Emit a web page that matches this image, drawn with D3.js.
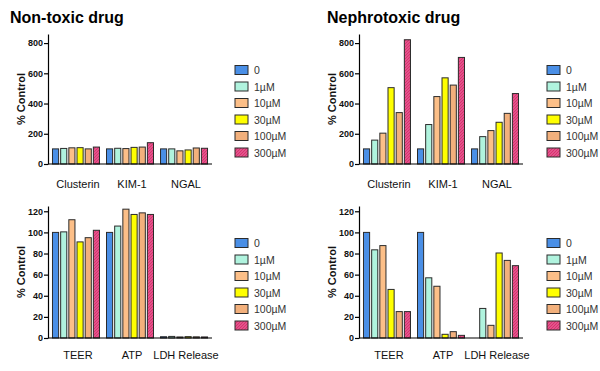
<!DOCTYPE html>
<html>
<head>
<meta charset="utf-8">
<script src="https://cdn.jsdelivr.net/npm/d3@7"></script>
<style>
  body { margin: 0; background: #fff; }
  text { font-family: "Liberation Sans", Arial, sans-serif; }
</style>
</head>
<body>
<svg id="chart" width="600" height="371"></svg>
<script>
var doses = ["0", "1µM", "10µM", "30µM", "100µM", "300µM"];
var doseColors = ["#4a8fe6", "#b0f3de", "#fcbf88", "#ffff00", "#f2b07c", "url(#hatch)"];

var biomarkers = ["Clusterin", "KIM-1", "NGAL"];
var viability = ["TEER", "ATP", "LDH Release"];

// values per category, one per dose
var nonToxicBiomarkers = [
  [100, 103, 107, 108, 100, 112],
  [100, 104, 102, 110, 112, 141],
  [100, 100, 87, 93, 106, 104]
];
var nephroBiomarkers = [
  [100, 158, 204, 505, 340, 822],
  [100, 261, 446, 570, 522, 705],
  [100, 181, 221, 276, 335, 466]
];
var nonToxicViability = [
  [100, 100.5, 112, 91, 95, 102],
  [100, 106, 122, 117, 118.5, 117],
  [1.2, 1.5, 1, 1.3, 1.1, 1]
];
var nephroViability = [
  [100, 83.5, 87.5, 46, 25, 25],
  [100, 57, 49, 3.5, 6, 2.5],
  [0, 28, 12, 80.5, 73.5, 68.5]
];

var biomarkerTicks = [0, 200, 400, 600, 800];
var viabilityTicks = [0, 20, 40, 60, 80, 100, 120];

var svg = d3.select("#chart");

// hatch pattern for the 300uM bars
var pat = svg.append("defs")
  .append("pattern")
    .attr("id", "hatch")
    .attr("patternUnits", "userSpaceOnUse")
    .attr("width", 3)
    .attr("height", 3);
pat.append("rect").attr("width", 3).attr("height", 3).attr("fill", "#d9306f");
pat.append("path")
    .attr("d", "M0,3 L3,0 M-1,1 L1,-1 M2,4 L4,2")
    .attr("stroke", "#f08ab4")
    .attr("stroke-width", 0.8);

function drawPanel(o) {
  var g = svg.append("g").attr("transform", "translate(" + o.dx + "," + o.dy + ")");

  var y = d3.scaleLinear().domain([0, o.ymax]).range([o.bottom, o.top]);
  var x = d3.scaleBand()
              .domain(o.categories)
              .range([48, 212])
              .paddingInner(0.13)
              .paddingOuter(0.083);
  var xs = d3.scaleBand()
              .domain(doses)
              .range([0, x.bandwidth()])
              .paddingInner(0.25);

  var groups = g.selectAll(".grp")
    .data(o.values)
    .enter()
    .append("g")
      .attr("transform", (d, i) => "translate(" + x(o.categories[i]) + ",0)");

  groups.selectAll("rect")
    .data(d => d)
    .enter()
    .append("rect")
      .attr("x", (d, i) => xs(doses[i]))
      .attr("width", xs.bandwidth())
      .attr("y", d => y(d))
      .attr("height", d => y(0) - y(d))
      .attr("fill", (d, i) => doseColors[i])
      .attr("stroke", "#2b2b2b")
      .attr("stroke-width", d => d > 0 ? 1 : 0);

  // y axis
  var ax = g.append("g")
      .attr("transform", "translate(48,0)")
      .call(d3.axisLeft(y).tickValues(o.ticks).tickSize(4).tickSizeOuter(0));
  ax.select(".domain").attr("stroke", "#000").attr("stroke-width", 1.2);
  ax.selectAll(".tick line").attr("stroke", "#000").attr("stroke-width", 1.2);
  ax.selectAll(".tick text")
      .attr("font-size", 9)
      .attr("font-weight", "bold")
      .attr("fill", "#111")
      .attr("x", -5);

  // x baseline
  g.append("line")
      .attr("x1", 48).attr("x2", 212)
      .attr("y1", y(0)).attr("y2", y(0))
      .attr("stroke", "#000")
      .attr("stroke-width", 1.2);

  g.selectAll(".cat")
    .data(o.categories)
    .enter()
    .append("text")
      .attr("x", d => x(d) + x.bandwidth() / 2 + 2)
      .attr("y", o.bottom + o.labelDy)
      .attr("text-anchor", "middle")
      .attr("font-size", 11)
      .attr("fill", "#111")
      .text(d => d);

  g.append("text")
      .attr("transform", "translate(25," + ((o.top + o.bottom) / 2) + ") rotate(-90)")
      .attr("text-anchor", "middle")
      .attr("font-size", 11)
      .attr("font-weight", "bold")
      .attr("fill", "#111")
      .text("% Control");

  if (o.title) {
    g.append("text")
        .attr("x", o.titleX)
        .attr("y", 23)
        .attr("font-size", 16)
        .attr("font-weight", "bold")
        .attr("fill", "#000")
        .text(o.title);
  }

  // legend
  var leg = g.selectAll(".leg")
    .data(doses)
    .enter()
    .append("g")
      .attr("transform", (d, i) => "translate(" + o.legX + "," + (o.legY + i * 16.5) + ")");
  leg.append("rect")
      .attr("x", 0).attr("y", -4.5)
      .attr("width", 13).attr("height", 9)
      .attr("fill", (d, i) => doseColors[i])
      .attr("stroke", "#2b2b2b")
      .attr("stroke-width", 1);
  leg.append("text")
      .attr("x", 19)
      .attr("y", 4)
      .attr("font-size", 10.5)
      .attr("fill", "#333")
      .text(d => d);
}

drawPanel({ dx: 0, dy: 0, categories: biomarkers, values: nonToxicBiomarkers,
  ymax: 860, top: 34, bottom: 164, ticks: biomarkerTicks, labelDy: 24,
  title: "Non-toxic drug", titleX: 10, legX: 235, legY: 70 });
drawPanel({ dx: 311, dy: 0, categories: biomarkers, values: nephroBiomarkers,
  ymax: 860, top: 34, bottom: 164, ticks: biomarkerTicks, labelDy: 24,
  title: "Nephrotoxic drug", titleX: 16, legX: 236, legY: 70 });
drawPanel({ dx: 0, dy: 0, categories: viability, values: nonToxicViability,
  ymax: 125, top: 206, bottom: 338, ticks: viabilityTicks, labelDy: 21,
  legX: 235, legY: 243 });
drawPanel({ dx: 311, dy: 0, categories: viability, values: nephroViability,
  ymax: 125, top: 206, bottom: 338, ticks: viabilityTicks, labelDy: 21,
  legX: 236, legY: 243 });
</script>
</body>
</html>
